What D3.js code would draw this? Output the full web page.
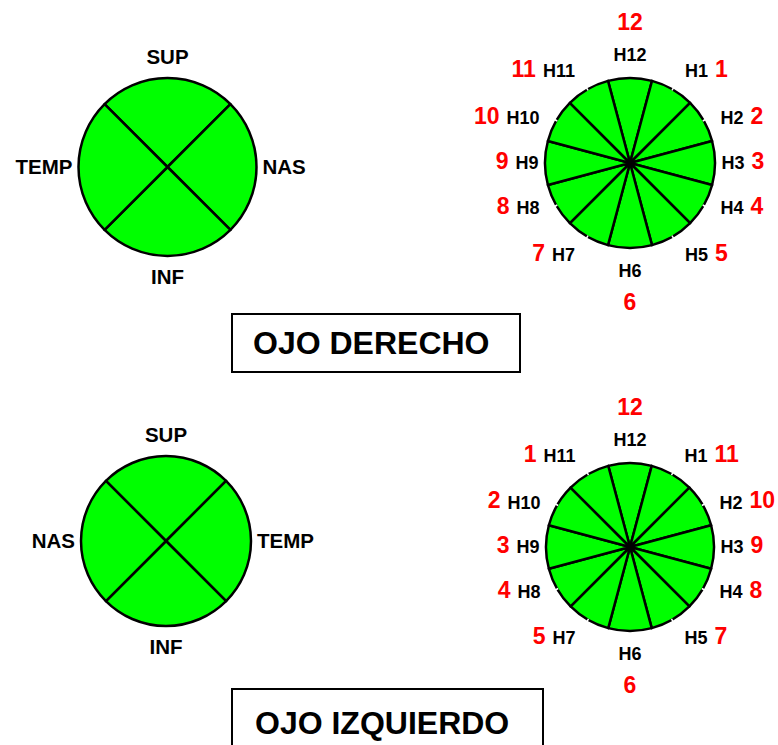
<!DOCTYPE html>
<html>
<head>
<meta charset="utf-8">
<script src="https://cdn.jsdelivr.net/npm/d3@7"></script>
<style>
  body { margin: 0; background: #fff; }
  text { font-family: "Liberation Sans", Arial, sans-serif; font-weight: bold; }
</style>
</head>
<body>
<script>
// quadrant labels, clockwise from the top
var quadRight = ["SUP", "NAS", "INF", "TEMP"];
var quadLeft = ["SUP", "TEMP", "INF", "NAS"];
// hour sectors, clockwise from the top
var hourLabels = ["H12", "H1", "H2", "H3", "H4", "H5", "H6", "H7", "H8", "H9", "H10", "H11"];
var numbersRight = [12, 1, 2, 3, 4, 5, 6, 7, 8, 9, 10, 11];
var numbersLeft = [12, 11, 10, 9, 8, 7, 6, 5, 4, 3, 2, 1];
var titles = ["OJO DERECHO", "OJO IZQUIERDO"];

var width = 778, height = 745;
var green = "#00ff00";

var svg = d3.select("body").append("svg")
    .attr("width", width)
    .attr("height", height);

var hourAngle = d3.scaleLinear().domain([0, 12]).range([0, 2 * Math.PI]);

function quadCircle(cx, cy, r, labels) {
  var g = svg.append("g").attr("transform", "translate(" + cx + "," + cy + ")");
  var pie = d3.pie().value(1).sort(null)
      .startAngle(-Math.PI / 4).endAngle(2 * Math.PI - Math.PI / 4);
  var arc = d3.arc().innerRadius(0).outerRadius(r);
  g.selectAll("path")
      .data(pie(labels))
    .enter().append("path")
      .attr("d", arc)
      .attr("fill", green)
      .attr("stroke", "#000")
      .attr("stroke-width", 2.5)
      .attr("stroke-linejoin", "round");

  var pos = [
    {x: 0, y: -r - 21, a: "middle"},
    {x: r + 6, y: 0, a: "start"},
    {x: 0, y: r + 21, a: "middle"},
    {x: -r - 6, y: 0, a: "end"}
  ];
  g.selectAll("text")
      .data(labels)
    .enter().append("text")
      .attr("x", function(d, i) { return pos[i].x; })
      .attr("y", function(d, i) { return pos[i].y; })
      .attr("dy", "0.35em")
      .attr("text-anchor", function(d, i) { return pos[i].a; })
      .attr("font-size", 20.5)
      .text(function(d) { return d; });
}

function hourCircle(cx, cy, r, numbers) {
  var g = svg.append("g").attr("transform", "translate(" + cx + "," + cy + ")");
  var step = Math.PI / 12;
  var pie = d3.pie().value(1).sort(null)
      .startAngle(-step).endAngle(2 * Math.PI - step);
  var arc = d3.arc().innerRadius(0).outerRadius(r);
  g.selectAll("path.sector")
      .data(pie(hourLabels))
    .enter().append("path")
      .attr("class", "sector")
      .attr("d", arc)
      .attr("fill", green)
      .attr("stroke", "#000")
      .attr("stroke-width", 2.5)
      .attr("stroke-linejoin", "round");

  // little white nicks on the rim at the oblique hours
  g.selectAll("line.nick")
      .data(d3.range(12).filter(function(h) { return h % 3 != 0; }))
    .enter().append("line")
      .attr("class", "nick")
      .attr("x1", function(h) { return (r - 1) * Math.sin(hourAngle(h)); })
      .attr("y1", function(h) { return -(r - 1) * Math.cos(hourAngle(h)); })
      .attr("x2", function(h) { return (r + 3) * Math.sin(hourAngle(h)); })
      .attr("y2", function(h) { return -(r + 3) * Math.cos(hourAngle(h)); })
      .attr("stroke", "#fff")
      .attr("stroke-width", 1.5);

  g.append("circle").attr("r", 3.5).attr("fill", "#000");

  // hour labels pushed a bit toward the diagonals, like the original
  var half = 11.5;
  function labelPos(i) {
    var t = hourAngle(i);
    var a = t + (8 * Math.PI / 180) * Math.sin(2 * t);
    var s2 = Math.abs(Math.sin(2 * t));
    return [(r + 18 + 9 * s2) * Math.sin(a), -(r + 23 + 8 * s2) * Math.cos(a)];
  }
  function side(i) { return i == 0 || i == 6 ? 0 : (i < 6 ? 1 : -1); }

  var labels = g.selectAll("text.hour")
      .data(hourLabels)
    .enter().append("text")
      .attr("class", "hour")
      .attr("x", function(d, i) { return labelPos(i)[0] - side(i) * half; })
      .attr("y", function(d, i) { return labelPos(i)[1]; })
      .attr("dy", "0.35em")
      .attr("text-anchor", function(d, i) {
        return ["end", "middle", "start"][side(i) + 1];
      })
      .attr("font-size", 18)
      .text(function(d) { return d; });

  var widths = [];
  labels.each(function() { widths.push(this.getComputedTextLength()); });

  g.selectAll("text.num")
      .data(numbers)
    .enter().append("text")
      .attr("class", "num")
      .attr("fill", "#ff0000")
      .attr("font-size", 23)
      .attr("dy", "0.35em")
      .attr("text-anchor", function(d, i) {
        return ["end", "middle", "start"][side(i) + 1];
      })
      .attr("x", function(d, i) {
        var s = side(i), x0 = labelPos(i)[0] - s * half;
        return s == 0 ? x0 : x0 + s * (widths[i] + 7);
      })
      .attr("y", function(d, i) {
        var p = labelPos(i);
        if (i == 0) return p[1] - 33;
        if (i == 6) return p[1] + 31;
        return p[1] - 2;
      })
      .text(function(d) { return d; });
}

function titleBox(x, y, w, h, tx, ty, label) {
  svg.append("rect")
      .attr("x", x).attr("y", y)
      .attr("width", w).attr("height", h)
      .attr("fill", "none")
      .attr("stroke", "#000")
      .attr("stroke-width", 2);
  svg.append("text")
      .attr("x", tx).attr("y", ty)
      .attr("font-size", 32)
      .text(label);
}

quadCircle(167.5, 167, 89, quadRight);
hourCircle(630, 163, 85, numbersRight);
titleBox(232, 314, 288, 58, 253, 354, titles[0]);

quadCircle(166, 541, 85, quadLeft);
hourCircle(630, 547, 84, numbersLeft);
titleBox(232, 689, 311, 80, 255, 734, titles[1]);
</script>
</body>
</html>
